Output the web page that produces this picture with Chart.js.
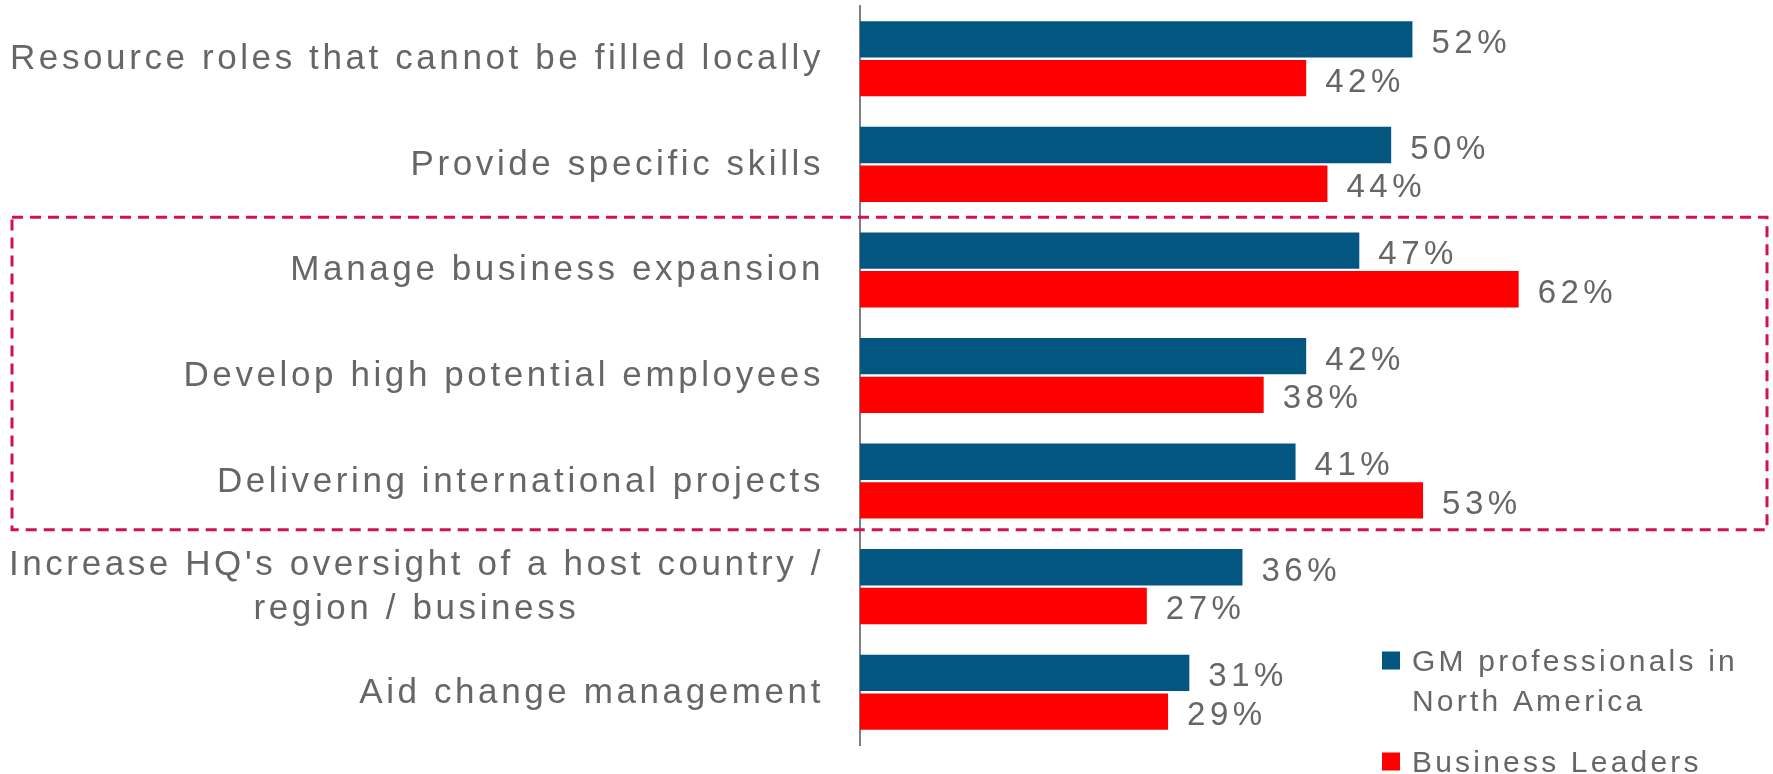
<!DOCTYPE html>
<html>
<head>
<meta charset="utf-8">
<script src="https://cdn.jsdelivr.net/npm/chart.js@4/dist/chart.umd.min.js"></script>
<style>
  html, body { margin: 0; padding: 0; background: #ffffff; }
  canvas { display: block; }
</style>
</head>
<body>
<canvas id="mobilityChart" width="1773" height="774"></canvas>
<script>

const categories = [
  "Resource roles that cannot be filled locally",
  "Provide specific skills",
  "Manage business expansion",
  "Develop high potential employees",
  "Delivering international projects",
  ["Increase HQ's oversight of a host country /", "region / business"],
  "Aid change management"
];

const seriesNames = ["GM professionals in North America", "Business Leaders"];

const gmNorthAmerica = [52, 50, 47, 42, 41, 36, 31];

const businessLeaders = [42, 44, 62, 38, 53, 27, 29];

// first and last row inside the dashed highlight box
const highlightRows = [2, 4];

const FONT = '"Liberation Sans", Arial, sans-serif';
const GREY = "#666666";
const COLORS = ["#02567F", "#FF0000"];

function wrapText(ctx, text, maxWidth) {

  const words = text.split(" ");
  const lines = [];
  let line = "";

  words.forEach(word => {
    const test = line ? line + " " + word : word;
    if (ctx.measureText(test).width > maxWidth && line) {
      lines.push(line);
      line = word;
    } else {
      line = test;
    }
  });

  if (line) lines.push(line);

  return lines;
}

const annotate = {

  id: "annotate",

  afterDraw(chart) {

    const ctx = chart.ctx;
    const yScale = chart.scales.y;
    const area = chart.chartArea;
    const band = yScale.getPixelForValue(1) - yScale.getPixelForValue(0);

    ctx.save();
    ctx.fillStyle = GREY;
    ctx.textBaseline = "alphabetic";

    // category labels
    ctx.font = "35px " + FONT;
    ctx.letterSpacing = "3.6px";

    const right = area.left - 36;

    categories.forEach((label, i) => {

      const cy = yScale.getPixelForValue(i);

      if (Array.isArray(label)) {

        const w = Math.max(...label.map(t => ctx.measureText(t).width));

        ctx.textAlign = "center";

        label.forEach((t, k) => {
          ctx.fillText(t, right - w / 2, cy + 10.5 + (k - (label.length - 1) / 2) * 44);
        });

      } else {

        ctx.textAlign = "right";
        ctx.fillText(label, right, cy + 10.5);

      }

    });

    // value labels
    ctx.font = "33px " + FONT;
    ctx.letterSpacing = "4.5px";
    ctx.textAlign = "left";

    chart.data.datasets.forEach((ds, d) => {
      chart.getDatasetMeta(d).data.forEach((bar, i) => {
        ctx.fillText(ds.data[i] + "%", bar.x + 19, bar.y + 13.5);
      });
    });

    // dashed highlight box
    const boxTop = yScale.getPixelForValue(highlightRows[0]) - band / 2;
    const boxBottom = yScale.getPixelForValue(highlightRows[1]) + band / 2 - 4;

    ctx.setLineDash([11, 7]);
    ctx.lineWidth = 3;
    ctx.strokeStyle = "#D0105A";
    ctx.strokeRect(12, boxTop, chart.width - 18, boxBottom - boxTop);
    ctx.setLineDash([]);

    // legend
    ctx.font = "30px " + FONT;
    ctx.letterSpacing = "3.2px";
    ctx.textAlign = "left";

    const lx = area.right - 381;
    let ly = area.bottom - 84.5;

    chart.data.datasets.forEach((ds, d) => {

      const lines = wrapText(ctx, ds.label, 335);

      ctx.fillStyle = ds.backgroundColor;
      ctx.fillRect(lx, ly - 9, 18, 18);

      ctx.fillStyle = GREY;

      lines.forEach((t, k) => {
        ctx.fillText(t, lx + 30, ly + 10.5 + k * 40);
      });

      ly += (lines.length - 1) * 40 + 61;

    });

    ctx.restore();

  }

};

new Chart(document.getElementById("mobilityChart"), {

  type: "bar",

  data: {

    labels: categories,

    datasets: [
      {
        label: seriesNames[0],
        data: gmNorthAmerica,
        backgroundColor: COLORS[0],
        categoryPercentage: 0.733,
        barPercentage: 0.94
      },
      {
        label: seriesNames[1],
        data: businessLeaders,
        backgroundColor: COLORS[1],
        categoryPercentage: 0.733,
        barPercentage: 0.94
      }
    ]

  },

  options: {

    indexAxis: "y",

    responsive: false,

    animation: false,

    layout: {
      padding: { top: 6, bottom: 29, left: 0, right: 10 }
    },

    plugins: {
      legend: { display: false },
      tooltip: { enabled: false }
    },

    scales: {

      x: {
        display: false,
        min: 0,
        max: 85
      },

      y: {
        ticks: { display: false },
        grid: { display: false },
        border: { display: true, color: "#808080", width: 2 },
        afterFit(scale) {
          scale.width = 860;
        }
      }

    }

  },

  plugins: [annotate]

});

</script>
</body>
</html>
